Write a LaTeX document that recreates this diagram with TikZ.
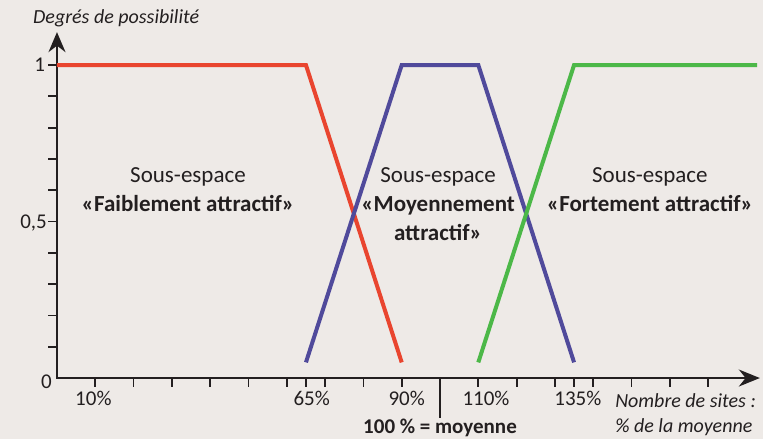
\documentclass[tikz,border=0pt]{standalone}
\usepackage{fontspec}
\setmainfont{Carlito}
\usetikzlibrary{arrows.meta}
\definecolor{fondgris}{RGB}{238,234,231}
\definecolor{rougeflou}{RGB}{233,69,47}
\definecolor{bleuflou}{RGB}{80,74,155}
\definecolor{vertflou}{RGB}{76,184,72}
\definecolor{encre}{RGB}{35,31,32}
\tikzset{
  axe/.style={line width=2.2pt, draw=encre},
  graduation/.style={line width=1.8pt, draw=encre},
  fonction/.style={line width=4pt},
  zone/.style={align=center, inner sep=0pt, text=encre, font=\fontsize{23}{29}\selectfont},
  valeur/.style={inner sep=0pt, text=encre, font=\fontsize{21}{24}\selectfont},
  titre/.style={inner sep=0pt, anchor=base west, text=encre, font=\fontsize{20}{24}\selectfont\itshape},
}
\begin{document}
\begin{tikzpicture}[x=3.83pt,y=313pt]
\fill [fondgris] (-14.88,-0.195) rectangle (184.33,1.2077);
\useasboundingbox (-14.88,-0.195) rectangle (184.33,1.2077);
% axes
\coordinate (O) at (0,0);
\coordinate (xfin) at (183.5,0);
\coordinate (yfin) at (0,1.105);
\draw [axe,{Stealth[length=20pt,width=17pt]}-{Stealth[length=21pt,width=17pt]}] (yfin) -- (O) -- (xfin);
\foreach \x in {10,20,...,170,65,135} {\draw [graduation] (\x,0) -- (\x,-0.029);}
\foreach \y in {0.1,0.2,...,1.0} {\draw [graduation] (0,\y) -- (-2.35,\y);}
\draw [graduation] (100,0) -- (100,-0.128);
% valeurs
\node [valeur, anchor=base east] (deg1) at (-3.1,0.979) {1};
\node [valeur, anchor=base east] (deg05) at (-2.6,0.478) {0,5};
\node [valeur, anchor=base east] (deg0) at (-1.3,-0.032) {0};
\foreach \x/\p in {9.5/10,66.5/65,91.3/90,112/110,136/135}
  {\node [valeur, anchor=base] (pct\p) at (\x,-0.0863) {\p\%};}
\node [valeur, anchor=base] (moyenne) at (100,-0.1757) {\textbf{100 \% = moyenne}};
% titres des axes
\node [titre] (titrey) at (-6.27,1.134) {Degrés de possibilité};
\node [titre] (titrex) at (145.7,-0.0927) {Nombre de sites :};
\node [titre] (titrex2) at (145.7,-0.1725) {\% de la moyenne};
% fonctions d'appartenance
\draw [fonction, rougeflou] (0,1) -- (65,1) -- (90,0.05);
\draw [fonction, bleuflou] (65,0.05) -- (90,1) -- (110,1) -- (135,0.05);
\draw [fonction, vertflou] (110,0.05) -- (135,1) -- (182.8,1);
% sous-espaces
\node [zone] (faible) at (34.2,0.6006) {Sous-espace\\\textbf{«Faiblement attractif»}};
\node [zone] (moyen) at (99.5,0.5543) {Sous-espace\\\textbf{«Moyennement}\\\textbf{attractif»}};
\node [zone] (fort) at (154.8,0.6006) {Sous-espace\\\textbf{«Fortement attractif»}};
\end{tikzpicture}
\end{document}
